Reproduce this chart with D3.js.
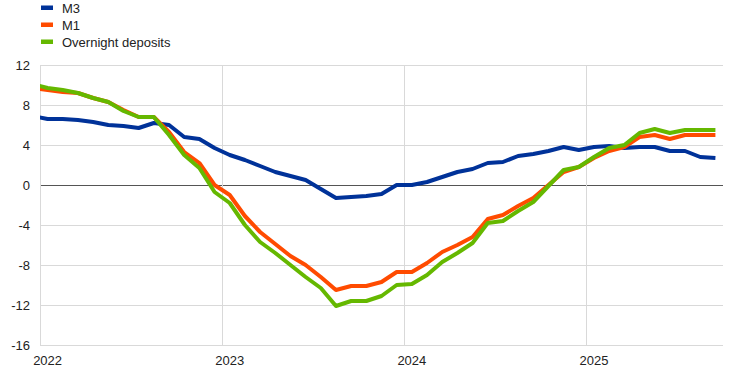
<!DOCTYPE html>
<html lang="en">
	<head>
		<meta charset="utf-8">
		<title>M3, M1 and overnight deposits</title>
		<script type="text/javascript" src="https://cdn.jsdelivr.net/npm/d3@7"></script>
		<style type="text/css">
			body { margin: 0; background: #fff; }
			text { font-family: "Liberation Sans", Arial, sans-serif; fill: #222; }
		</style>
	</head>
	<body>
		<script type="text/javascript">
			//annual growth rates, Dec 2021 to Sep 2025 (monthly)
			var months = d3.timeMonth.range(new Date(2021, 11, 1), new Date(2025, 9, 1));

			var m3 = [6.9, 6.6, 6.6, 6.5, 6.3, 6.0, 5.9, 5.7, 6.2, 6.0, 4.8, 4.6, 3.7,
				3.0, 2.5, 1.9, 1.3, 0.9, 0.5, -0.4, -1.3, -1.2, -1.1, -0.9, 0.0,
				0.0, 0.3, 0.8, 1.3, 1.6, 2.2, 2.3, 2.9, 3.1, 3.4, 3.8, 3.5,
				3.8, 3.9, 3.7, 3.8, 3.8, 3.4, 3.4, 2.8, 2.7];

			var m1 = [9.7, 9.5, 9.3, 9.2, 8.7, 8.3, 7.5, 6.8, 6.8, 5.3, 3.3, 2.2, 0.0,
				-1.0, -3.1, -4.7, -5.9, -7.1, -8.0, -9.2, -10.5, -10.1, -10.1, -9.7, -8.7,
				-8.7, -7.8, -6.7, -6.0, -5.2, -3.4, -3.0, -2.1, -1.3, 0.0, 1.3, 1.8,
				2.7, 3.4, 3.8, 4.8, 5.0, 4.6, 5.0, 5.0, 5.0];

			var overnight = [10.1, 9.7, 9.5, 9.2, 8.7, 8.3, 7.4, 6.8, 6.8, 5.0, 3.0, 1.7, -0.7,
				-1.8, -4.0, -5.7, -6.8, -8.0, -9.2, -10.3, -12.1, -11.6, -11.6, -11.1, -10.0,
				-9.9, -9.0, -7.7, -6.8, -5.8, -3.8, -3.6, -2.6, -1.7, -0.1, 1.5, 1.8,
				2.8, 3.7, 4.0, 5.2, 5.6, 5.2, 5.5, 5.5, 5.5];

			var seriesNames = ["M3", "M1", "Overnight deposits"];
			var seriesColors = ["#003299", "#ff4b00", "#65b800"];
			var yTicks = [-16, -12, -8, -4, 0, 4, 8, 12];
			var yearLabels = ["2022", "2023", "2024", "2025"];

			//Width and height
			var w = 744;
			var h = 371;
			var plotLeft = 40, plotRight = 723, plotTop = 65, plotBottom = 345;

			//month index 0 = Jan 2022, points sit in the middle of each month
			var xScale = d3.scaleLinear()
				.domain([0, 45])
				.range([plotLeft, plotRight]);

			var yScale = d3.scaleLinear()
				.domain([-16, 12])
				.range([plotBottom, plotTop]);

			var svg = d3.select("body")
				.append("svg")
				.attr("width", w)
				.attr("height", h);

			svg.append("clipPath")
				.attr("id", "plot")
				.append("rect")
				.attr("x", plotLeft)
				.attr("y", 0)
				.attr("width", plotRight - plotLeft)
				.attr("height", h);

			//horizontal grid
			svg.selectAll("line.hgrid")
				.data(yTicks)
				.enter()
				.append("line")
				.attr("class", "hgrid")
				.attr("x1", plotLeft)
				.attr("x2", plotRight)
				.attr("y1", function(d) { return Math.round(yScale(d)) + 0.5; })
				.attr("y2", function(d) { return Math.round(yScale(d)) + 0.5; })
				.attr("stroke", function(d) { return d === 0 ? "#555" : "#d9d9d9"; })
				.attr("stroke-width", 1);

			//vertical grid at year boundaries
			svg.selectAll("line.vgrid")
				.data(yearLabels)
				.enter()
				.append("line")
				.attr("class", "vgrid")
				.attr("x1", function(d, i) { return Math.round(xScale(i * 12)) + 0.5; })
				.attr("x2", function(d, i) { return Math.round(xScale(i * 12)) + 0.5; })
				.attr("y1", plotTop)
				.attr("y2", plotBottom)
				.attr("stroke", "#d9d9d9")
				.attr("stroke-width", 1);

			//y tick labels
			svg.selectAll("text.ylab")
				.data(yTicks)
				.enter()
				.append("text")
				.attr("class", "ylab")
				.attr("x", 30)
				.attr("y", function(d) { return yScale(d) + 4.7; })
				.attr("text-anchor", "end")
				.style("font-size", "13px")
				.text(function(d) { return d; });

			//x labels, centred on January of each year
			svg.selectAll("text.xlab")
				.data(yearLabels)
				.enter()
				.append("text")
				.attr("class", "xlab")
				.attr("x", function(d, i) { return xScale(i * 12 + 0.5); })
				.attr("y", 365)
				.attr("text-anchor", "middle")
				.style("font-size", "13px")
				.text(function(d) { return d; });

			var line = d3.line()
				.x(function(d, i) { return xScale(i - 0.5); })
				.y(function(d) { return yScale(d); });

			var lines = svg.append("g").attr("clip-path", "url(#plot)");

			[m3, m1, overnight].forEach(function(series, k) {
				lines.append("path")
					.datum(series)
					.attr("d", line)
					.attr("fill", "none")
					.attr("stroke", seriesColors[k])
					.attr("stroke-width", 4)
					.attr("stroke-linejoin", "round");
			});

			//legend
			var legend = svg.selectAll("g.legend")
				.data(seriesNames)
				.enter()
				.append("g")
				.attr("class", "legend")
				.attr("transform", function(d, i) { return "translate(41," + (7.5 + i * 17) + ")"; });

			legend.append("rect")
				.attr("x", 0)
				.attr("y", -2)
				.attr("width", 12)
				.attr("height", 4.5)
				.attr("fill", function(d, i) { return seriesColors[i]; });

			legend.append("text")
				.attr("x", 21)
				.attr("y", 5)
				.style("font-size", "13px")
				.text(function(d) { return d; });
		</script>
	</body>
</html>
